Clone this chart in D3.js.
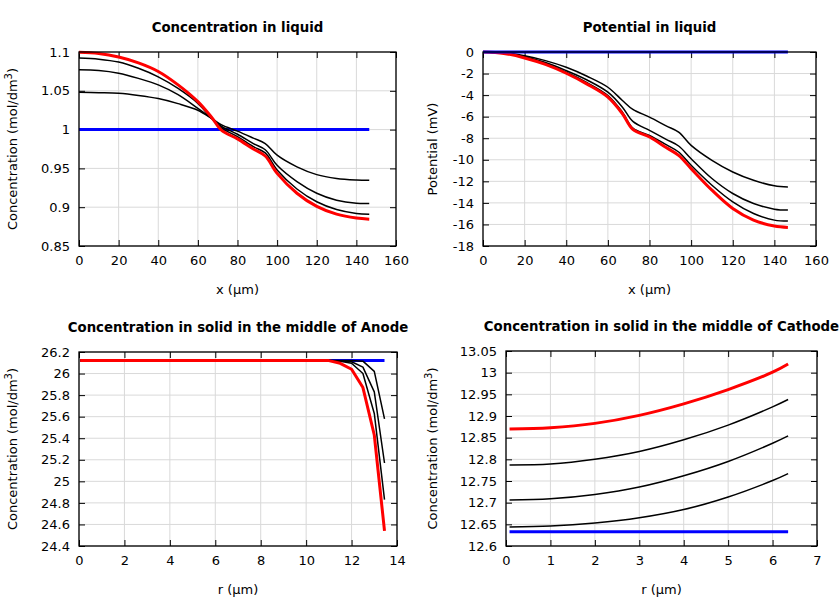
<!DOCTYPE html>
<html><head><meta charset="utf-8">
<script src="https://cdn.jsdelivr.net/npm/d3@7"></script>
<style>body{margin:0;background:#fff}svg{display:block}text{font-family:"DejaVu Sans",sans-serif}</style>
</head><body><svg id="c" width="840" height="600"></svg>
<script>
// ---- Data ----
const xLiquid = [0,10,20,30,40,50,60,67,72,80,88,94,100,110,120,130,140,146.5];
const concLiqInit = xLiquid.map(()=>1.0);
const concLiq1 = [1.048,1.0475,1.0467,1.044,1.040,1.0335,1.025,1.0143,1.006,0.998,0.989,0.982,0.967,0.952,0.942,0.937,0.935,0.9346];
const concLiq2 = [1.077,1.0762,1.0727,1.066,1.0576,1.045,1.0273,1.0143,1.004,0.994,0.982,0.974,0.954,0.933,0.918,0.909,0.905,0.9047];
const concLiq3 = [1.0922,1.0908,1.087,1.079,1.068,1.053,1.0338,1.0143,1.002,0.991,0.978,0.970,0.948,0.9235,0.907,0.897,0.892,0.891];
const concLiqEnd = [1.0996,1.0980,1.0935,1.086,1.0749,1.0576,1.036,1.0156,0.999,0.988,0.975,0.966,0.9436,0.918,0.901,0.891,0.886,0.8846];

const potInit = xLiquid.map(()=>0);
const pot1 = [0,-0.08,-0.34,-0.8,-1.42,-2.25,-3.27,-4.5,-5.33,-6.04,-6.85,-7.43,-8.66,-10.05,-11.13,-11.9,-12.42,-12.52];
const pot2 = [0,-0.1,-0.43,-0.98,-1.73,-2.6,-3.73,-5.12,-6.44,-7.27,-8.1,-8.72,-9.9,-11.74,-13.13,-14.06,-14.58,-14.67];
const pot3 = [0,-0.12,-0.49,-1.08,-1.88,-2.85,-4.04,-5.58,-7.06,-7.74,-8.6,-9.28,-10.51,-12.36,-13.9,-14.98,-15.6,-15.69];
const potEnd = [0,-0.13,-0.55,-1.15,-1.97,-2.98,-4.19,-5.73,-7.18,-7.89,-8.86,-9.59,-10.82,-12.82,-14.52,-15.6,-16.15,-16.28];

const rAnode = [0.05,10.5,11.0,11.5,12.0,12.5,13.0,13.45];
const anodeInit = rAnode.map(()=>26.12);
const anode1 = [26.12,26.12,26.12,26.12,26.12,26.115,26.02,25.58];
const anode2 = [26.12,26.12,26.12,26.118,26.11,26.06,25.83,25.17];
const anode3 = [26.12,26.12,26.12,26.115,26.095,26.0,25.63,24.83];
const anodeEnd = [26.12,26.12,26.12,26.095,26.04,25.87,25.43,24.54];

const rCathode = [0.08,1,2,3,4,5,6,6.35];
const cathInit = rCathode.map(()=>12.633);
const cath1 = [12.644,12.646,12.653,12.665,12.684,12.713,12.751,12.767];
const cath2 = [12.706,12.709,12.719,12.736,12.762,12.795,12.837,12.854];
const cath3 = [12.787,12.789,12.800,12.818,12.845,12.879,12.921,12.938];
const cathEnd = [12.870,12.873,12.883,12.9015,12.928,12.961,13.001,13.020];

const xTicksLiq = [0,20,40,60,80,100,120,140,160];
const yTicksConcLiq = [0.85,0.9,0.95,1,1.05,1.1];
const yTicksPot = [0,-2,-4,-6,-8,-10,-12,-14,-16,-18];
const xTicksAnode = [0,2,4,6,8,10,12,14];
const yTicksAnode = [24.4,24.6,24.8,25,25.2,25.4,25.6,25.8,26,26.2];
const xTicksCath = [0,1,2,3,4,5,6,7];
const yTicksCath = [12.6,12.65,12.7,12.75,12.8,12.85,12.9,12.95,13,13.05];

const svg = d3.select("#c");

function panel(o){
  const {left,right,top,bottom,xDom,yDom,xTicks,yTicks,title,xLabel,yLabel,yLabelX,xs,series,curve,yFmt} = o;
  const x = d3.scaleLinear().domain(xDom).range([left,right]);
  const y = d3.scaleLinear().domain(yDom).range([bottom,top]);
  const g = svg.append("g");
  g.selectAll(".gx").data(xTicks).join("line").attr("x1",d=>x(d)).attr("x2",d=>x(d)).attr("y1",top).attr("y2",bottom).attr("stroke","#d9d9d9").attr("stroke-width",1);
  g.selectAll(".gy").data(yTicks).join("line").attr("y1",d=>y(d)).attr("y2",d=>y(d)).attr("x1",left).attr("x2",right).attr("stroke","#d9d9d9").attr("stroke-width",1);
  const tl = 6;
  g.append("g").attr("transform",`translate(0,${bottom})`).call(d3.axisBottom(x).tickValues(xTicks).tickSize(-tl).tickPadding(10).tickFormat(d3.format("")))
   .call(a=>{a.select(".domain").remove();a.selectAll("text").attr("font-size",13).attr("font-family","DejaVu Sans").attr("fill","#000");});
  g.append("g").attr("transform",`translate(0,${top})`).call(d3.axisTop(x).tickValues(xTicks).tickSize(-tl).tickFormat(""))
   .call(a=>a.select(".domain").remove());
  g.append("g").attr("transform",`translate(${left},0)`).call(d3.axisLeft(y).tickValues(yTicks).tickSize(-tl).tickPadding(9).tickFormat(yFmt))
   .call(a=>{a.select(".domain").remove();a.selectAll("text").attr("font-size",13).attr("font-family","DejaVu Sans").attr("fill","#000");});
  g.append("g").attr("transform",`translate(${right},0)`).call(d3.axisRight(y).tickValues(yTicks).tickSize(-tl).tickFormat(""))
   .call(a=>a.select(".domain").remove());
  const line = d3.line().x(d=>x(d[0])).y(d=>y(d[1])).curve(curve);
  series.forEach(s=>{
    g.append("path").datum(xs.map((v,i)=>[v,s.v[i]])).attr("d",line).attr("fill","none")
     .attr("stroke",s.c).attr("stroke-width",s.w).attr("stroke-linejoin","round");
  });
  g.append("rect").attr("x",left).attr("y",top).attr("width",right-left).attr("height",bottom-top).attr("fill","none").attr("stroke","#000").attr("stroke-width",1.3);
  svg.append("text").attr("x",(left+right)/2).attr("y",top-20).attr("text-anchor","middle").attr("font-size",13.3).attr("font-weight","bold").text(title);
  svg.append("text").attr("x",(left+right)/2).attr("y",bottom+48).attr("text-anchor","middle").attr("font-size",13).text(xLabel);
  const yl = svg.append("text").attr("transform",`translate(${yLabelX},${(top+bottom)/2}) rotate(-90)`).attr("text-anchor","middle").attr("font-size",13);
  if(yLabel==="conc"){
    yl.append("tspan").text("Concentration (mol/dm");
    yl.append("tspan").attr("dy",-5).attr("font-size",10).text("3");
    yl.append("tspan").attr("dy",5).text(")");
  } else yl.text(yLabel);
}

const fmt = d=>String(+d.toFixed(2));
const smooth = d3.curveCatmullRom.alpha(0.5);
panel({left:79,right:396,top:52,bottom:246,xDom:[0,160],yDom:[0.85,1.1],xTicks:xTicksLiq,yTicks:yTicksConcLiq,
  title:"Concentration in liquid",xLabel:"x (µm)",yLabel:"conc",yLabelX:17,xs:xLiquid,curve:smooth,yFmt:fmt,
  series:[{v:concLiqInit,c:"#0000ff",w:3},{v:concLiq1,c:"#000",w:1.5},{v:concLiq2,c:"#000",w:1.5},{v:concLiq3,c:"#000",w:1.5},{v:concLiqEnd,c:"#ff0000",w:3}]});
panel({left:483,right:816,top:52,bottom:246,xDom:[0,160],yDom:[-18,0],xTicks:xTicksLiq,yTicks:yTicksPot,
  title:"Potential in liquid",xLabel:"x (µm)",yLabel:"Potential (mV)",yLabelX:437,xs:xLiquid,curve:smooth,yFmt:fmt,
  series:[{v:pot1,c:"#000",w:1.5},{v:pot2,c:"#000",w:1.5},{v:pot3,c:"#000",w:1.5},{v:potEnd,c:"#ff0000",w:3},{v:potInit,c:"#0000ff",w:3}]});
panel({left:79,right:397,top:352,bottom:546,xDom:[0,14],yDom:[24.4,26.2],xTicks:xTicksAnode,yTicks:yTicksAnode,
  title:"Concentration in solid in the middle of Anode",xLabel:"r (µm)",yLabel:"conc",yLabelX:17,xs:rAnode,curve:d3.curveLinear,yFmt:fmt,
  series:[{v:anodeInit,c:"#0000ff",w:3},{v:anode1,c:"#000",w:1.5},{v:anode2,c:"#000",w:1.5},{v:anode3,c:"#000",w:1.5},{v:anodeEnd,c:"#ff0000",w:3}]});
panel({left:506,right:817,top:351,bottom:546,xDom:[0,7],yDom:[12.6,13.05],xTicks:xTicksCath,yTicks:yTicksCath,
  title:"Concentration in solid in the middle of Cathode",xLabel:"r (µm)",yLabel:"conc",yLabelX:437,xs:rCathode,curve:smooth,yFmt:fmt,
  series:[{v:cathInit,c:"#0000ff",w:3},{v:cath1,c:"#000",w:1.5},{v:cath2,c:"#000",w:1.5},{v:cath3,c:"#000",w:1.5},{v:cathEnd,c:"#ff0000",w:3}]});
</script></body></html>
